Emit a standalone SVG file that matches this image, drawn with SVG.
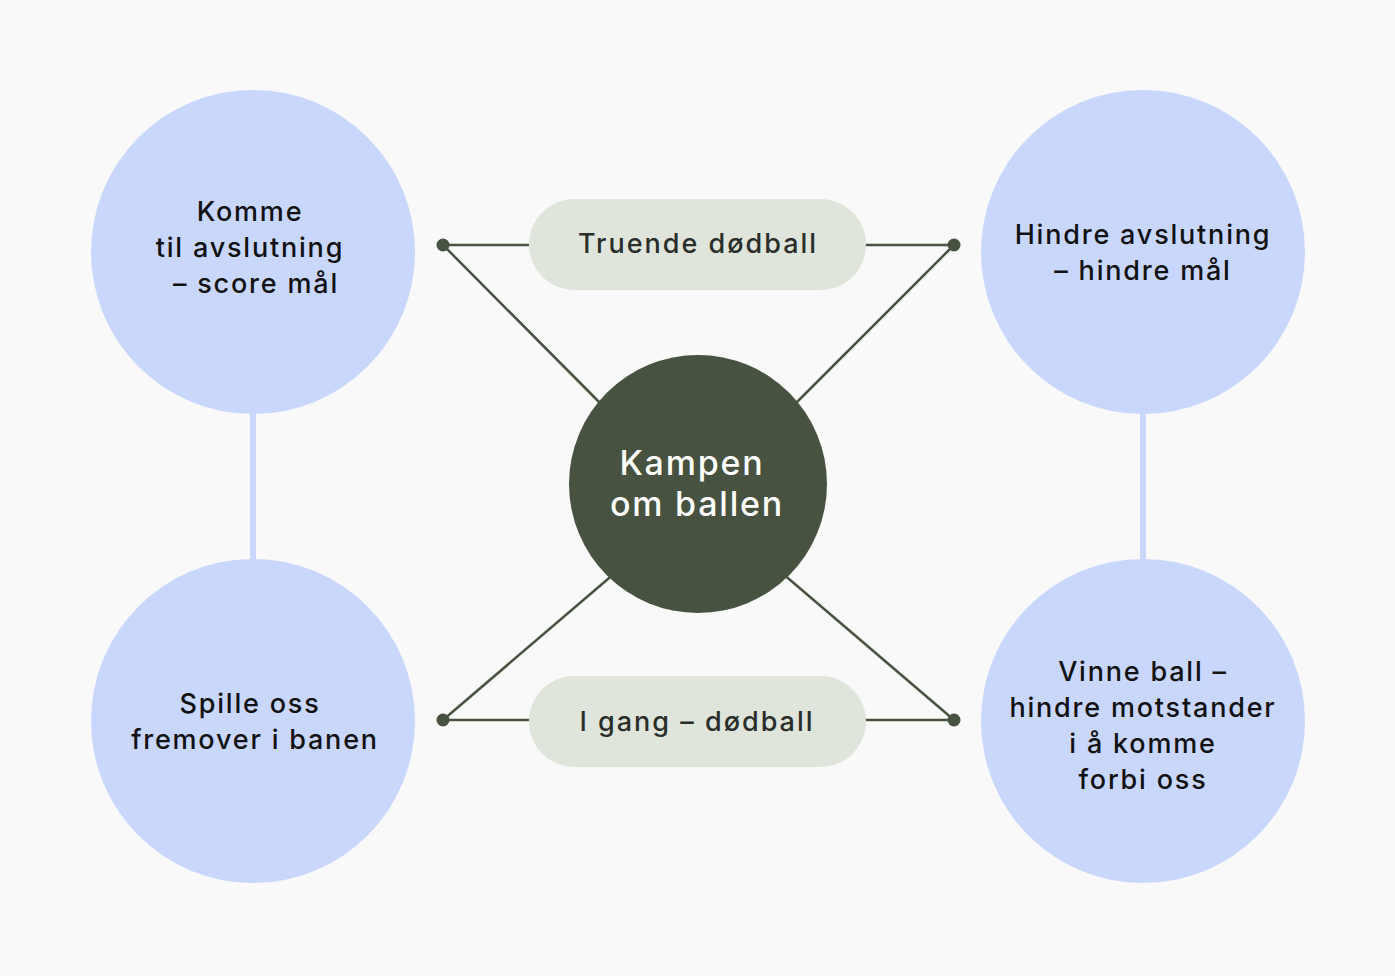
<svg xmlns="http://www.w3.org/2000/svg" width="1395" height="976" viewBox="0 0 1395 976">
<style>
.bubble{fill:#c9d7fd}
.t{font-family:Inter,"Noto Sans",sans-serif;font-weight:500;font-size:27px;fill:#111;text-anchor:middle;letter-spacing:1.8px}
.pt{font-family:Inter,"Noto Sans",sans-serif;font-weight:500;font-size:27px;fill:#2a2e2a;text-anchor:middle;letter-spacing:2px}
.ct{font-family:Inter,"Noto Sans",sans-serif;font-weight:500;font-size:34px;fill:#fff;text-anchor:middle;letter-spacing:1.8px}
.ln{stroke:#485240;stroke-width:2.5;fill:none}
.dot{fill:#485240}
.pill{fill:#e0e5db}
</style>
<rect width="1395" height="976" fill="#f9f9f9"/>
<g id="connectors">
<line x1="253" y1="400" x2="253" y2="575" stroke="#c9d7fd" stroke-width="6"/>
<line x1="1143" y1="400" x2="1143" y2="575" stroke="#c9d7fd" stroke-width="6"/>
<line class="ln" x1="443" y1="245" x2="530" y2="245"/>
<line class="ln" x1="865" y1="245" x2="954" y2="245"/>
<line class="ln" x1="443" y1="720" x2="530" y2="720"/>
<line class="ln" x1="865" y1="720" x2="954" y2="720"/>
<line class="ln" x1="443" y1="245" x2="610" y2="413"/>
<line class="ln" x1="954" y1="245" x2="786" y2="413"/>
<line class="ln" x1="443" y1="720" x2="622" y2="567"/>
<line class="ln" x1="954" y1="720" x2="775" y2="567"/>
<circle class="dot" cx="443" cy="245" r="6.5"/>
<circle class="dot" cx="954" cy="245" r="6.5"/>
<circle class="dot" cx="443" cy="720" r="6.5"/>
<circle class="dot" cx="954" cy="720" r="6.5"/>
</g>
<g id="node-top-left">
<circle class="bubble" cx="253" cy="252" r="162"/>
<text class="t" x="250" y="221">Komme</text>
<text class="t" x="250" y="257">til avslutning</text>
<text class="t" x="256" y="293">– score mål</text>
</g>
<g id="node-top-right">
<circle class="bubble" cx="1143" cy="252" r="162"/>
<text class="t" x="1143" y="244">Hindre avslutning</text>
<text class="t" x="1143" y="280">– hindre mål</text>
</g>
<g id="node-bottom-left">
<circle class="bubble" cx="253" cy="721" r="162"/>
<text class="t" x="250" y="713">Spille oss</text>
<text class="t" x="255" y="749">fremover i banen</text>
</g>
<g id="node-bottom-right">
<circle class="bubble" cx="1143" cy="721" r="162"/>
<text class="t" x="1143" y="681">Vinne ball –</text>
<text class="t" x="1143" y="717">hindre motstander</text>
<text class="t" x="1143" y="753">i å komme</text>
<text class="t" x="1143" y="789">forbi oss</text>
</g>
<g id="node-center">
<circle cx="698" cy="484" r="129" fill="#485240"/>
<text class="ct" x="692" y="475">Kampen</text>
<text class="ct" x="697" y="516">om ballen</text>
</g>
<g id="pill-top">
<rect class="pill" x="529" y="199" width="337" height="91" rx="45.5"/>
<text class="pt" x="698" y="253">Truende dødball</text>
</g>
<g id="pill-bottom">
<rect class="pill" x="529" y="676" width="337" height="91" rx="45.5"/>
<text class="pt" x="697" y="731">I gang – dødball</text>
</g>
</svg>
